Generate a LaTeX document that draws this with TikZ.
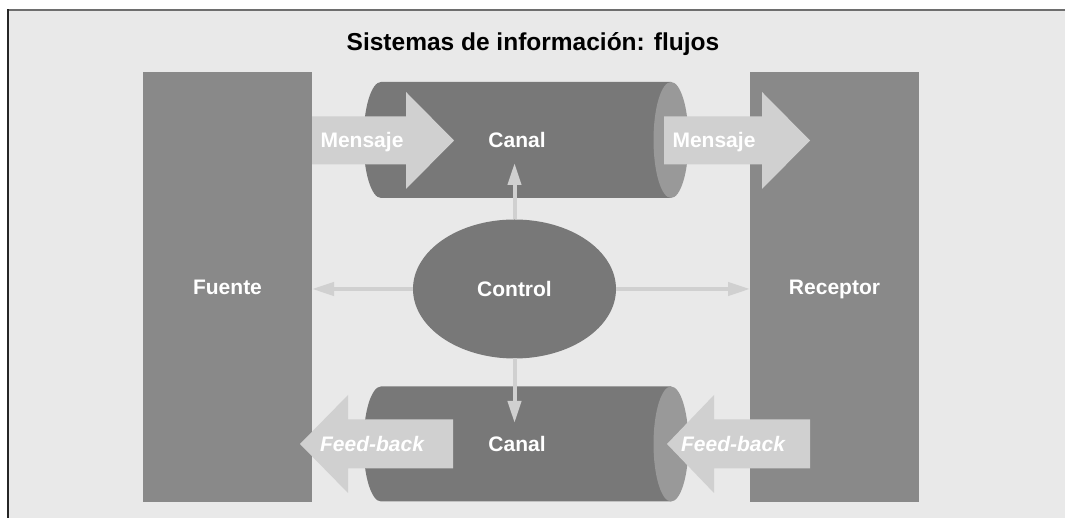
\documentclass[tikz,border=0pt]{standalone}
\usepackage{fontspec}
\setmainfont{Liberation Sans}
\usetikzlibrary{arrows.meta,shapes.geometric}
\definecolor{bggray}{HTML}{E9E9E9}
\definecolor{boxgray}{HTML}{898989}
\definecolor{cylbody}{HTML}{787878}
\definecolor{cylend}{HTML}{999999}
\definecolor{flowgray}{HTML}{D0D0D0}
\definecolor{framegray}{HTML}{6E6E6E}

\begin{document}
\begin{tikzpicture}[x=1pt,y=1pt,>={Triangle[length=22pt,width=13pt]},
  font=\bfseries\fontsize{21}{25}\selectfont,
  block/.style={fill=boxgray,text=white,inner sep=0pt,outer sep=0pt,
    minimum width=169pt,minimum height=430pt},
  lbl/.style={text=white,inner sep=0pt,text height=15pt,text depth=0pt},
  flow/.style={fill=flowgray},
  ctrlarrow/.style={->,draw=flowgray,fill=flowgray,line width=4pt}]
  \useasboundingbox (0,0) rectangle (1065,518);
  % frame
  \fill[bggray] (8,0) rectangle (1065,507.5);
  \draw[framegray,line width=2pt] (8,507.5) -- (1065,507.5);
  \draw[black!85,line width=2pt] (8,0) -- (8,508.5);
  \node[lbl,text=black,font=\bfseries\fontsize{24.5}{29}\selectfont,text height=17.5pt]
    (title) at (533,476) {Sistemas de información: flujos};
  % source and receiver
  \node[block] (fuente) at (227.5,231) {};
  \node[block] (receptor) at (834.5,231) {};
  \node[lbl] (fuentetxt) at (227.5,231) {Fuente};
  \node[lbl] (receptortxt) at (834.5,231) {Receptor};
  % channels
  \fill[cylbody] (671,436) -- (381,436) arc[start angle=90,end angle=270,x radius=17.5,y radius=58]
    -- (671,320) -- cycle;
  \fill[cylend] (671,378) ellipse[x radius=17.5,y radius=58];
  \fill[cylbody] (671,131.5) -- (381,131.5) arc[start angle=90,end angle=270,x radius=17.5,y radius=57.5]
    -- (671,16.5) -- cycle;
  \fill[cylend] (671,74) ellipse[x radius=17.5,y radius=57.5];
  % message and feed-back flows
  \fill[flow] (312,353.5) -- (406,353.5) -- (406,329) -- (454,377.5) -- (406,426)
    -- (406,401.5) -- (312,401.5) -- cycle;
  \fill[flow] (664,353.5) -- (762,353.5) -- (762,329) -- (810,377.5) -- (762,426)
    -- (762,401.5) -- (664,401.5) -- cycle;
  \fill[flow] (453,49.5) -- (348,49.5) -- (348,25) -- (300,74) -- (348,123)
    -- (348,98.5) -- (453,98.5) -- cycle;
  \fill[flow] (810,49.5) -- (714,49.5) -- (714,25) -- (667,74) -- (714,123)
    -- (714,98.5) -- (810,98.5) -- cycle;
  \node[lbl] (msgin) at (362,378) {Mensaje};
  \node[lbl] (msgout) at (714,378) {Mensaje};
  \node[lbl] (canaltop) at (517,378) {Canal};
  \node[lbl] (canalbot) at (517,74) {Canal};
  \node[lbl,font=\bfseries\itshape\fontsize{21}{25}\selectfont] (fbout) at (372,74) {Feed-back};
  \node[lbl,font=\bfseries\itshape\fontsize{21}{25}\selectfont] (fbin) at (733,74) {Feed-back};
  % control
  \node[ellipse,fill=cylbody,text=white,inner sep=0pt,outer sep=0pt,
    minimum width=203pt,minimum height=139pt] (ctrl) at (514.5,229) {Control};
  \coordinate (uptip) at (514.5,355);
  \coordinate (downtip) at (514.5,95);
  \draw[ctrlarrow] (ctrl.north) -- (uptip);
  \draw[ctrlarrow] (ctrl.south) -- (downtip);
  \draw[ctrlarrow] (ctrl.west) -- (ctrl.west -| fuente.east);
  \draw[ctrlarrow] (ctrl.east) -- (ctrl.east -| receptor.west);
\end{tikzpicture}
\end{document}
